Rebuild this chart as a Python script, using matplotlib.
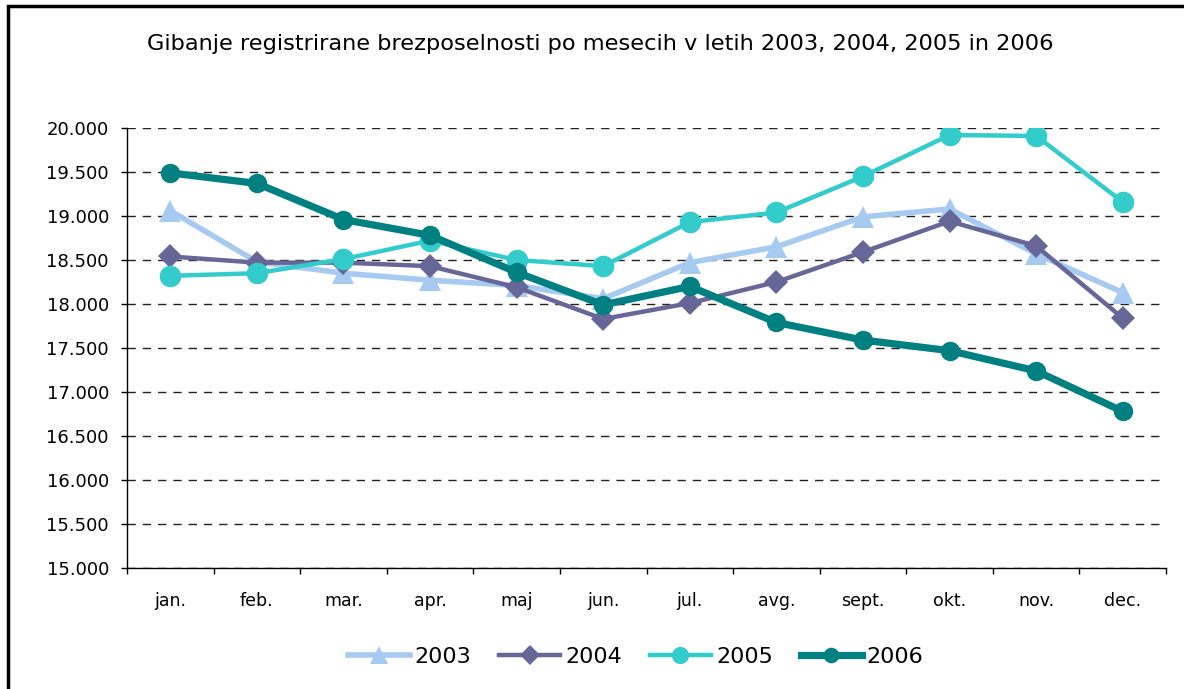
import matplotlib
matplotlib.use("Agg")
import matplotlib.pyplot as plt
import matplotlib.patches as mpatches
from matplotlib.ticker import FuncFormatter, FixedLocator

# Podatki (registrirana brezposelnost po mesecih)
meseci = ["jan.", "feb.", "mar.", "apr.", "maj", "jun.", "jul.", "avg.",
          "sept.", "okt.", "nov.", "dec."]
leta = ["2003", "2004", "2005", "2006"]
v2003 = [19060, 18480, 18350, 18270, 18210, 18060, 18470, 18650, 18990, 19080, 18570, 18130]
v2004 = [18540, 18470, 18470, 18430, 18190, 17830, 18010, 18250, 18590, 18940, 18660, 17840]
v2005 = [18320, 18350, 18510, 18720, 18500, 18430, 18930, 19040, 19450, 19920, 19910, 19160]
v2006 = [19490, 19370, 18960, 18780, 18360, 17990, 18200, 17790, 17590, 17470, 17240, 16780]

barve = ["#A6CAF0", "#666699", "#33CCCC", "#008080"]
markerji = ["^", "D", "o", "o"]
debeline = [4.0, 3.2, 3.2, 5.2]
velikosti = [16, 12.5, 15.5, 14]

W, H = 1184, 689
fig = plt.figure(figsize=(W / 100, H / 100), dpi=100, facecolor="white")
ax = fig.add_axes([127 / W, 121 / H, 1039 / W, 440 / H])

x = list(range(len(meseci)))
for vrednosti, leto, c, m, lw, ms in zip([v2003, v2004, v2005, v2006], leta, barve,
                                         markerji, debeline, velikosti):
    ax.plot(x, vrednosti, color=c, lw=lw, marker=m, markersize=ms,
            markeredgewidth=0, label=leto, zorder=3)

ax.set_xlim(-0.5, len(meseci) - 0.5)
ax.set_ylim(15000, 20000)
ax.set_yticks(range(15000, 20001, 500))
ax.yaxis.set_major_formatter(FuncFormatter(lambda v, p: f"{int(v):,}".replace(",", ".")))
ax.yaxis.grid(True, color="#222222", linestyle=(0, (6, 5)), lw=1.0)
ax.set_axisbelow(True)

ax.xaxis.set_major_locator(FixedLocator([i - 0.5 for i in range(len(meseci) + 1)]))
ax.xaxis.set_minor_locator(FixedLocator(x))
ax.set_xticklabels([])
ax.set_xticklabels(meseci, minor=True)
ax.tick_params(axis="x", which="major", direction="out", length=4.5, width=1)
ax.tick_params(axis="x", which="minor", length=0, pad=17, labelsize=12.5)
ax.tick_params(axis="y", direction="out", length=4.5, width=1, pad=8.5, labelsize=13)

for s in ["top", "right"]:
    ax.spines[s].set_visible(False)
for s in ["left", "bottom"]:
    ax.spines[s].set_color("black")
    ax.spines[s].set_linewidth(1)

fig.text(600 / W, 1 - 44 / H,
         "Gibanje registrirane brezposelnosti po mesecih v letih 2003, 2004, 2005 in 2006",
         ha="center", va="center", fontsize=16.2)

fig.legend(loc="center", bbox_to_anchor=(636 / W, 1 - 657 / H), ncol=4, frameon=False,
           fontsize=16, handlelength=2.75, handletextpad=0.22, columnspacing=1.26,
           markerscale=0.8)

# okvir grafikona
okvir = mpatches.Rectangle((8 / W, -0.1), 1.1, 1 - 6 / H + 0.1, transform=fig.transFigure,
                           fill=False, edgecolor="black", lw=2.5)
fig.patches.append(okvir)

fig.savefig("out.png", dpi=100, facecolor="white")
